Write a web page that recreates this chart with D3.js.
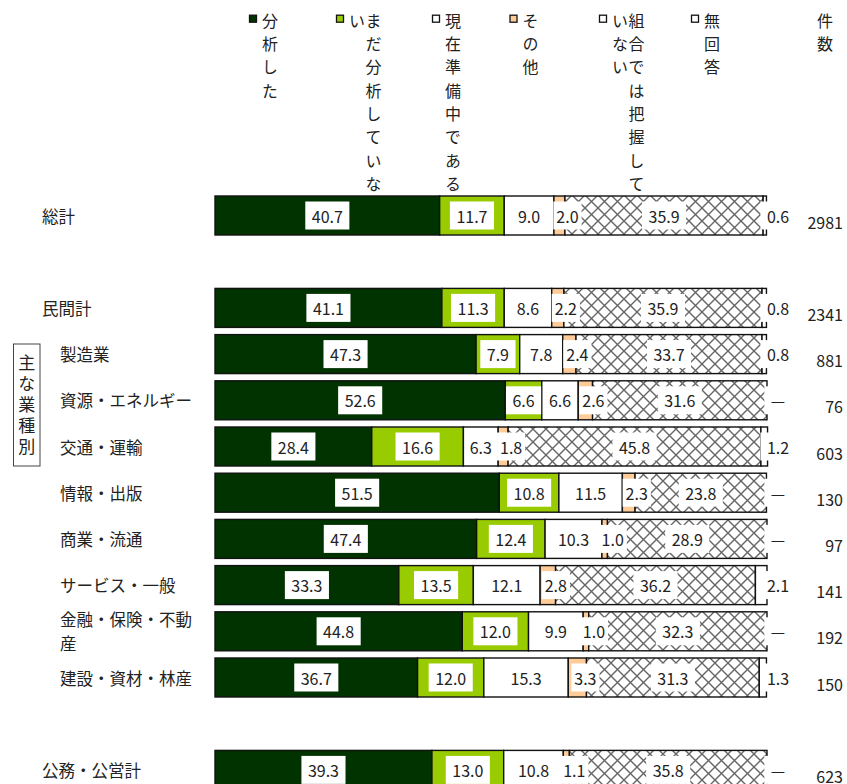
<!DOCTYPE html>
<html>
<head>
<meta charset="utf-8">
<script src="https://cdn.jsdelivr.net/npm/d3@7"></script>
<style>
  html, body { margin: 0; padding: 0; background: #fff; }
  svg { display: block; font-family: "Noto Sans CJK JP", "Noto Sans", sans-serif; }
</style>
</head>
<body>
<script>
// Row categories (top to bottom)
const categories = ["総計", "民間計", "製造業", "資源・エネルギー", "交通・運輸", "情報・出版",
  "商業・流通", "サービス・一般", "金融・保険・不動産", "建設・資材・林産", "公務・公営計"];

// Percentages per answer (null = "—")
const analyzed       = [40.7, 41.1, 47.3, 52.6, 28.4, 51.5, 47.4, 33.3, 44.8, 36.7, 39.3];
const notYet         = [11.7, 11.3, 7.9, 6.6, 16.6, 10.8, 12.4, 13.5, 12.0, 12.0, 13.0];
const preparing      = [9.0, 8.6, 7.8, 6.6, 6.3, 11.5, 10.3, 12.1, 9.9, 15.3, 10.8];
const other          = [2.0, 2.2, 2.4, 2.6, 1.8, 2.3, 1.0, 2.8, 1.0, 3.3, 1.1];
const unknownByUnion = [35.9, 35.9, 33.7, 31.6, 45.8, 23.8, 28.9, 36.2, 32.3, 31.3, 35.8];
const noAnswer       = [0.6, 0.8, 0.8, null, 1.2, null, null, 2.1, null, 1.3, null];

// Number of responses
const counts = [2981, 2341, 881, 76, 603, 130, 97, 141, 192, 150, 623];

const seriesNames = ["分析した", "まだ分析していない", "現在準備中である", "その他", "組合では把握していない", "無回答"];
const countHeader = "件数";
const groupLabel = "主な業種別";
const subIndustries = categories.slice(2, 10);

const W = 847, H = 784;
const seriesValues = [analyzed, notYet, preparing, other, unknownByUnion, noAnswer];
const fills = ["#003300", "#99cc00", "#ffffff", "#ffcc99", "url(#cross)", "#ffffff"];
const keys = d3.range(seriesNames.length).map(i => "s" + i);

const table = categories.map((c, r) => {
  const row = { cat: c };
  keys.forEach((k, i) => row[k] = seriesValues[i][r] == null ? 0 : seriesValues[i][r]);
  return row;
});
const stacked = d3.stack().keys(keys)(table);

// Band rows, with blank rows separating the totals
const rows = [categories[0], "gap1", ...categories.slice(1, 10), "gap2", categories[10]];
const y = d3.scaleBand().domain(rows)
  .range([192.4, 192.4 + rows.length * 46.2])
  .paddingInner(0.156).paddingOuter(0.078);
const x = d3.scaleLinear().domain([0, 100]).range([215, 767]);

const svg = d3.select("body").append("svg").attr("width", W).attr("height", H);
svg.append("rect").attr("width", W).attr("height", H).attr("fill", "#fff");

// Cross-hatch fill
const pat = svg.append("defs").append("pattern")
  .attr("id", "cross").attr("patternUnits", "userSpaceOnUse")
  .attr("width", 13).attr("height", 13);
pat.append("rect").attr("width", 13).attr("height", 13).attr("fill", "#fff");
pat.append("path").attr("d", "M0,0L13,13M13,0L0,13")
  .attr("stroke", "#666").attr("stroke-width", 1.4).attr("fill", "none");

const textColor = "#222";

// Segments
const segG = svg.append("g");
stacked.forEach((layer, i) => {
  segG.selectAll(null)
    .data(layer.filter(d => d[1] - d[0] > 0))
    .join("rect")
    .attr("x", d => x(d[0]))
    .attr("y", d => y(d.data.cat))
    .attr("width", d => x(d[1]) - x(d[0]))
    .attr("height", y.bandwidth())
    .attr("fill", fills[i])
    .attr("stroke", "#111")
    .attr("stroke-width", 1.4);
});

// Value labels with white boxes
const labG = svg.append("g").attr("font-size", 16).attr("fill", textColor);
stacked.forEach((layer, i) => {
  layer.forEach((d, r) => {
    const v = seriesValues[i][r];
    const cat = d.data.cat;
    const cy = y(cat) + y.bandwidth() / 2;
    let cx;
    if (i === 5) cx = x(100) + 11;
    else if (i === 3) cx = (x(d[0]) + x(d[1])) / 2 + 8;
    else cx = (x(d[0]) + x(d[1])) / 2;
    const txt = v == null ? "—" : v.toFixed(1);
    const g = labG.append("g");
    const box = g.append("rect").attr("fill", "#fff");
    const t = g.append("text")
      .attr("x", cx).attr("y", cy)
      .attr("text-anchor", "middle")
      .attr("dominant-baseline", "central")
      .text(txt);
    const tw = t.node().getComputedTextLength();
    const pad = i === 3 ? 3 : 6.5;
    if (i !== 2) {
      box.attr("x", cx - tw / 2 - pad).attr("y", cy - 14)
        .attr("width", tw + pad * 2).attr("height", 28);
    } else box.remove();
  });
});

// Counts
svg.append("g").attr("font-size", 16).attr("fill", textColor)
  .selectAll("text").data(categories).join("text")
  .attr("x", 843)
  .attr("y", (c) => y(c) + y.bandwidth() / 2 + 6)
  .attr("text-anchor", "end")
  .attr("dominant-baseline", "central")
  .text((c, r) => counts[r]);

// Category labels (long names wrap after 8 characters)
const catG = svg.append("g").attr("font-size", 16.5).attr("fill", textColor);
categories.forEach(c => {
  const lx = subIndustries.includes(c) ? 60 : 42;
  const lines = [];
  for (let k = 0; k < c.length; k += 8) lines.push(c.slice(k, k + 8));
  const lh = 24;
  const cy = y(c) + y.bandwidth() / 2 - (lines.length - 1) * lh / 2;
  const t = catG.append("text").attr("dominant-baseline", "central");
  lines.forEach((ln, j) => t.append("tspan").attr("x", lx).attr("y", cy + j * lh).text(ln));
});

// Group bracket with vertical label
const brTop = 344, brBottom = 466;
svg.append("rect").attr("x", 13.5).attr("y", brTop).attr("width", 26.5).attr("height", brBottom - brTop)
  .attr("fill", "none").attr("stroke", "#444").attr("stroke-width", 1);
svg.append("text")
  .attr("x", 26.8).attr("y", 354)
  .attr("font-size", 17).attr("fill", textColor)
  .style("writing-mode", "vertical-rl")
  .style("letter-spacing", "4px")
  .text(groupLabel);

// Legend: vertical text columns, read right to left
const legendX = [253, 340, 436, 513.5, 603, 695];
const step = 23.3, colW = 16.5, perCol = 8, topY = 20.7;
const legG = svg.append("g");
seriesNames.forEach((name, i) => {
  const mx = legendX[i];
  legG.append("rect").attr("x", mx - 3.5).attr("y", topY - 5.5).attr("width", 7).attr("height", 7)
    .attr("fill", i === 4 ? "#fff" : fills[i]).attr("stroke", "#111").attr("stroke-width", 1.3);
  const chars = Array.from(name);
  const nCols = Math.ceil(chars.length / perCol);
  for (let col = 0; col < nCols; col++) {
    legG.append("text")
      .attr("x", mx + 17 + (nCols - 1 - col) * colW)
      .attr("y", topY - 8)
      .attr("font-size", 16).attr("fill", textColor)
      .style("writing-mode", "vertical-rl")
      .style("letter-spacing", (step - 16) + "px")
      .text(chars.slice(col * perCol, (col + 1) * perCol).join(""));
  }
});
svg.append("text")
  .attr("x", 825).attr("y", topY - 8)
  .attr("font-size", 16).attr("fill", textColor)
  .style("writing-mode", "vertical-rl")
  .style("letter-spacing", (step - 16) + "px")
  .text(countHeader);
</script>
</body>
</html>
